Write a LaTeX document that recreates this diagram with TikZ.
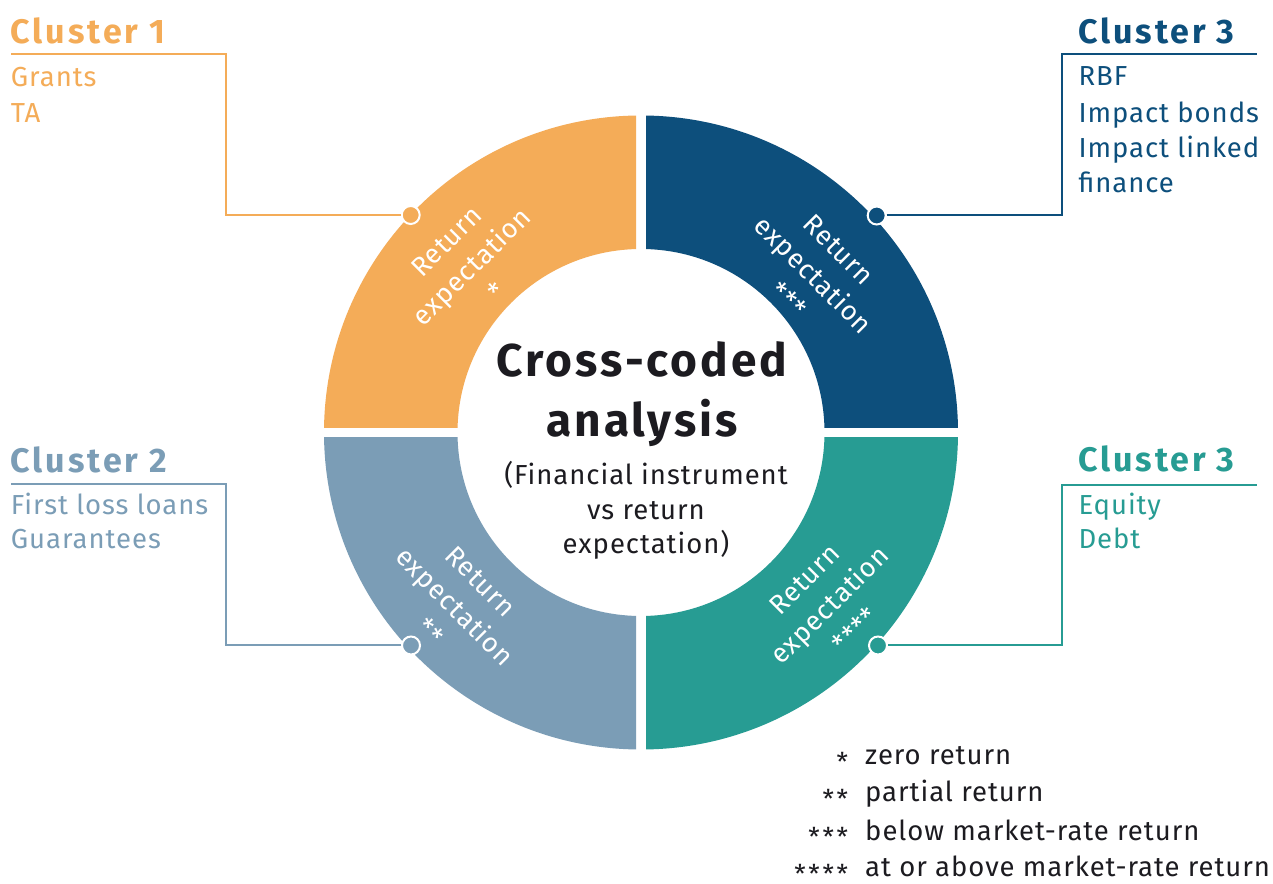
\documentclass[tikz,border=0pt]{standalone}
\usepackage{fontspec}
\setmainfont{Fira Sans}
\usetikzlibrary{calc}
\definecolor{corange}{HTML}{F4AC58}
\definecolor{cblue}{HTML}{0D4F7C}
\definecolor{cgrey}{HTML}{7B9DB6}
\definecolor{cteal}{HTML}{279C93}
\definecolor{cblack}{HTML}{1C1B20}
\newcommand{\regsp}{\addfontfeature{LetterSpace=3.5}}
\newcommand{\boldsp}{\bfseries\addfontfeature{LetterSpace=8.5}}
\begin{document}
\begin{tikzpicture}[x=1pt,y=1pt,
  conn/.style={line width=2pt},
  dotc/.style={circle, draw=white, line width=2pt, minimum size=18pt, inner sep=0pt},
  head/.style={anchor=base west, inner sep=0pt, font=\fontsize{34}{34}\selectfont\boldsp},
  item/.style={anchor=base west, inner sep=0pt, font=\fontsize{27.5}{27.5}\selectfont\regsp},
  ringtxt/.style={align=center, inner sep=0pt, text=white, font=\fontsize{27}{36}\selectfont\regsp},
  titletxt/.style={anchor=base, inner sep=0pt, text=cblack, font=\fontsize{46}{46}\selectfont\bfseries\addfontfeature{LetterSpace=6.5}},
  subtxt/.style={anchor=base, inner sep=0pt, text=cblack, font=\fontsize{27.5}{27.5}\selectfont\regsp},
  legstar/.style={anchor=base east, inner sep=0pt, text=cblack, font=\fontsize{26}{26}\selectfont\addfontfeature{LetterSpace=10}},
  legtxt/.style={anchor=base west, inner sep=0pt, text=cblack, font=\fontsize{27.5}{27.5}\selectfont\regsp}]
\fill[white] (0,0) rectangle (1273,883);
\useasboundingbox (0,0) rectangle (1273,883);
\coordinate (C) at (641,450.5);
% ring quadrants
\begin{scope}
\clip (636,455.5) rectangle (300,790);
\fill[corange, even odd rule] (C) circle (317) (C) circle (183.5);
\end{scope}
\begin{scope}
\clip (646,455.5) rectangle (980,790);
\fill[cblue, even odd rule] (C) circle (317) (C) circle (183.5);
\end{scope}
\begin{scope}
\clip (636,445.5) rectangle (300,110);
\fill[cgrey, even odd rule] (C) circle (317) (C) circle (183.5);
\end{scope}
\begin{scope}
\clip (646,445.5) rectangle (980,110);
\fill[cteal, even odd rule] (C) circle (317) (C) circle (183.5);
\end{scope}
% ring texts
\node[ringtxt, rotate=45] (r1) at (471.7,616.3) {Return\\expectation\\*};
\node[ringtxt, rotate=-45] (r3) at (813.3,608) {Return\\expectation\\***};
\node[ringtxt, rotate=-45] (r2) at (455,276.3) {Return\\expectation\\**};
\node[ringtxt, rotate=45] (r4) at (829.8,278) {Return\\expectation\\****};
% centre
\node[titletxt] (t1) at (642,506.3) {Cross-coded};
\node[titletxt] (t2) at (642,446.3) {analysis};
\node[subtxt] (s1) at (646,398) {(Financial instrument};
\node[subtxt] (s2) at (646,363) {vs return};
\node[subtxt] (s3) at (646,329.7) {expectation)};
% dots
\node[dotc, fill=corange] (d1) at (410.7,668) {};
\node[dotc, fill=cblue] (d3) at (876.7,667.5) {};
\node[dotc, fill=cgrey] (d2) at (411,237.5) {};
\node[dotc, fill=cteal] (d4) at (878,237.5) {};
% connector corners
\coordinate (k1) at (225.5,668);
\coordinate (k1t) at (225.5,828.5);
\coordinate (e1) at (10.5,828.5);
\coordinate (k2) at (225.7,237.5);
\coordinate (k2t) at (225.7,398.7);
\coordinate (e2) at (10.5,398.7);
\coordinate (k3) at (1062.3,667.5);
\coordinate (k3t) at (1062.3,829);
\coordinate (e3) at (1256.7,829);
\coordinate (k4) at (1062.3,237.5);
\coordinate (k4t) at (1062.3,398);
\coordinate (e4) at (1256.7,398);
\draw[conn, corange] (d1) -- (k1) -- (k1t) -- (e1);
\draw[conn, cgrey] (d2) -- (k2) -- (k2t) -- (e2);
\draw[conn, cblue] (d3) -- (k3) -- (k3t) -- (e3);
\draw[conn, cteal] (d4) -- (k4) -- (k4t) -- (e4);
% cluster labels
\node[head, text=corange] (h1) at (10.7,839.7) {Cluster 1};
\node[item, text=corange] (h1a) at (10.7,796.3) {Grants};
\node[item, text=corange] (h1b) at (10.7,760.7) {TA};
\node[head, text=cgrey] (h2) at (10.7,410.3) {Cluster 2};
\node[item, text=cgrey] (h2a) at (10.7,368.7) {First loss loans};
\node[item, text=cgrey] (h2b) at (10.7,334) {Guarantees};
\node[head, text=cblue] (h3) at (1078.3,839.7) {Cluster 3};
\node[item, text=cblue] (h3a) at (1078.3,797) {RBF};
\node[item, text=cblue] (h3b) at (1078.3,760.7) {Impact bonds};
\node[item, text=cblue] (h3c) at (1078.3,725.7) {Impact linked};
\node[item, text=cblue] (h3d) at (1078.3,690.7) {finance};
\node[head, text=cteal] (h4) at (1078.3,411.3) {Cluster 3};
\node[item, text=cteal] (h4a) at (1078.3,368) {Equity};
\node[item, text=cteal] (h4b) at (1078.3,334) {Debt};
% legend
\node[legstar] (l1s) at (848.3,118) {\raisebox{-0.25em}[\height][0pt]{*}};
\node[legtxt] (l1) at (865,118) {zero return};
\node[legstar] (l2s) at (848.3,81.3) {\raisebox{-0.25em}[\height][0pt]{**}};
\node[legtxt] (l2) at (865,81.3) {partial return};
\node[legstar] (l3s) at (848.3,43) {\raisebox{-0.25em}[\height][0pt]{***}};
\node[legtxt] (l3) at (865,43) {below market-rate return};
\node[legstar] (l4s) at (848.3,6.3) {\raisebox{-0.25em}[\height][0pt]{****}};
\node[legtxt] (l4) at (865,6.3) {at or above market-rate return};
\end{tikzpicture}
\end{document}
